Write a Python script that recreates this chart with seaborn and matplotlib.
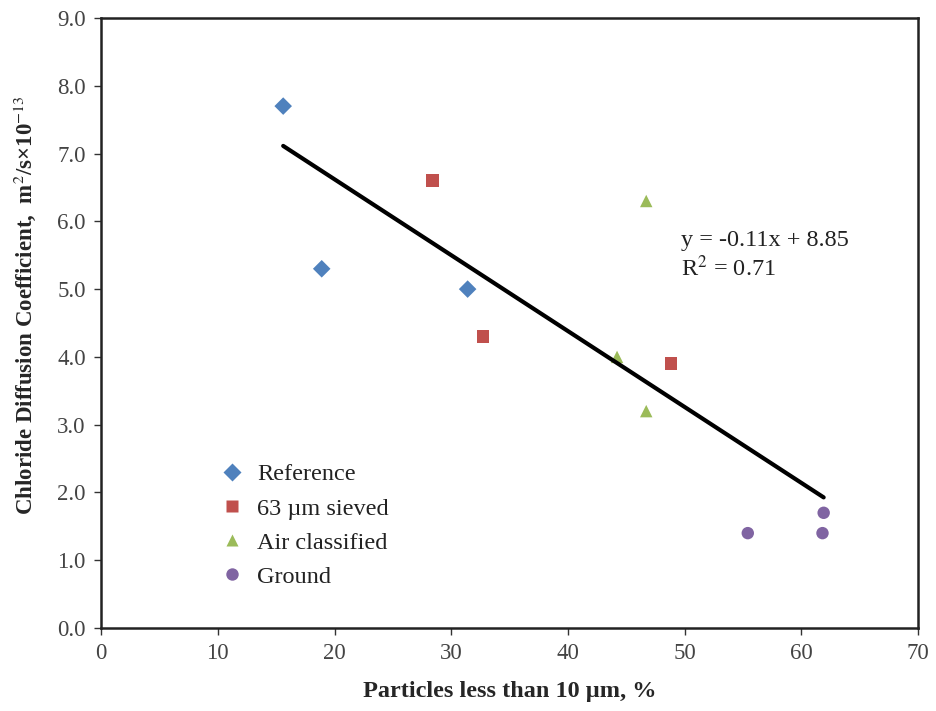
import numpy as np
import pandas as pd
import matplotlib
matplotlib.use('Agg')
import matplotlib.pyplot as plt
import seaborn as sns

## dados
grupos = ['Reference', '63 µm sieved', 'Air classified', 'Ground']
x_reference = [15.6, 18.9, 31.4]
y_reference = [7.7, 5.3, 5.0]
x_sieved = [28.4, 32.7, 48.8]
y_sieved = [6.6, 4.3, 3.9]
x_air = [46.7, 44.2, 46.7]
y_air = [6.3, 4.0, 3.2]
x_ground = [55.4, 61.9, 61.8]
y_ground = [1.4, 1.7, 1.4]
inclinacao = -0.112
intercepto = 8.86

cores = ['#4F81BD', '#C0504D', '#9BBB59', '#8064A2']
marcadores = ['D', 's', '^', 'o']

data_frame = pd.DataFrame({
    'x': x_reference + x_sieved + x_air + x_ground,
    'y': y_reference + y_sieved + y_air + y_ground,
    'grupo': [grupos[0]] * 3 + [grupos[1]] * 3 + [grupos[2]] * 3 + [grupos[3]] * 3,
})

sns.set_style('white')
plt.rcParams['font.family'] = ['Liberation Serif', 'DejaVu Serif']
plt.rcParams['mathtext.fontset'] = 'stix'

fig = plt.figure(figsize=(9.36, 7.11), dpi=100)
ax = fig.add_axes([0.108, 0.1167, 0.873, 0.858])

sns.scatterplot(data=data_frame, x='x', y='y', hue='grupo', style='grupo',
                hue_order=grupos, style_order=grupos,
                palette=cores, markers=marcadores, s=80, edgecolor='none',
                ax=ax)

## linha de tendência
x_linha = np.array([min(data_frame['x']), max(data_frame['x'])])
ax.plot(x_linha, inclinacao * x_linha + intercepto, color='black', lw=3,
        solid_capstyle='round')

ax.text(49.7, 5.72, 'y = -0.11x + 8.85', fontsize=17.5, va='center',
        color='#222222')
ax.text(49.7, 5.30, 'R$^2$ = 0.71', fontsize=17.5, va='center',
        color='#222222')

ax.set_xlim(0, 70)
ax.set_ylim(0, 9)
ax.set_xticks(range(0, 71, 10))
ax.set_yticks(np.arange(0, 9.1, 1))
ax.set_yticklabels([f'{v:.1f}' for v in np.arange(0, 9.1, 1)])
ax.tick_params(axis='both', labelsize=16.5, colors='#333333', direction='out',
               length=5, width=1, left=True, bottom=True, pad=6)
ax.tick_params(axis='both', labelcolor='#444444')
for lado in ax.spines.values():
    lado.set_color('#222222')
    lado.set_linewidth(1.8)

ax.set_xlabel('Particles less than 10 µm, %', fontsize=17.5, fontweight='bold',
              labelpad=12)
ax.set_ylabel(r'Chloride Diffusion Coefficient,  m$^2$/s×10$^{-13}$',
              fontsize=16.5, fontweight='bold')
ax.yaxis.set_label_coords(-0.077, 0.53)

legenda = ax.legend(loc='lower left', bbox_to_anchor=(0.118, 0.03), frameon=False,
                    fontsize=17.5, handlelength=1.0, handletextpad=0.55,
                    labelspacing=0.5, markerscale=1.0)
for texto in legenda.get_texts():
    texto.set_color('#222222')

fig.savefig('out.png', dpi=100)
